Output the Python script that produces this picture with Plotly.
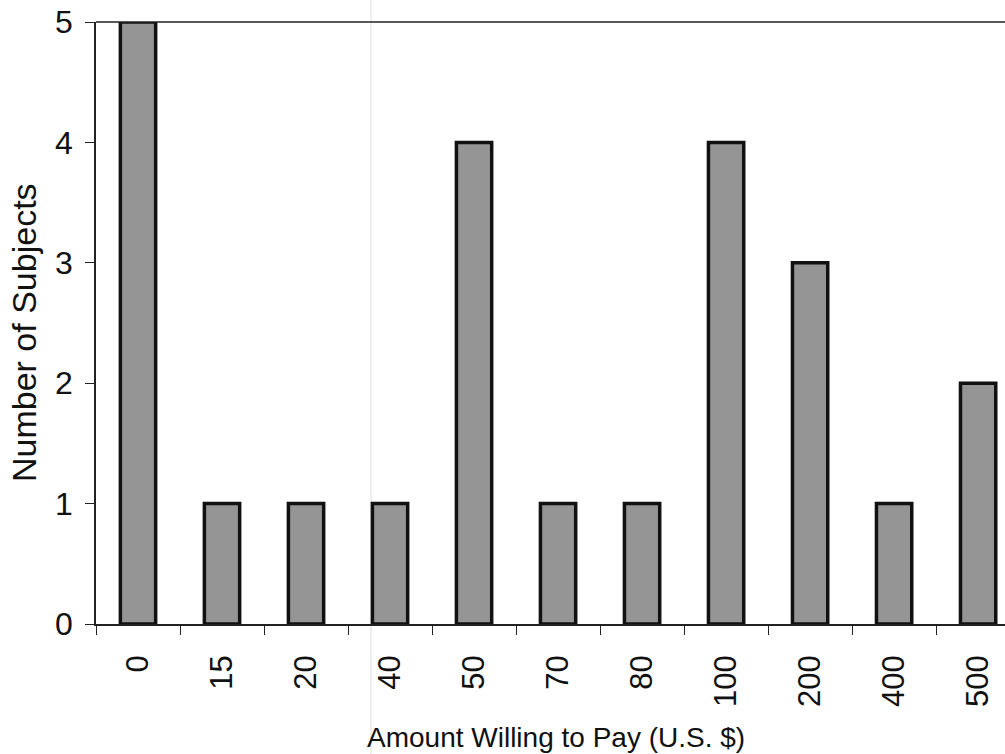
import plotly.graph_objects as go

# Amount willing to pay (categories) and number of subjects
amounts = ["0", "15", "20", "40", "50", "70", "80", "100", "200", "400", "500"]
subjects = [5, 1, 1, 1, 4, 1, 1, 4, 3, 1, 2]
y_ticks = [0, 1, 2, 3, 4, 5]

font_family = "Liberation Sans, Arial, sans-serif"

W, H = 1005, 754
L, R, T, B = 96, 0, 22, 130
plot_w = W - L - R
plot_h = H - T - B


def px_x(x):
    return (x - L) / plot_w


def px_y(y):
    return (H - B - y) / plot_h


fig = go.Figure(go.Bar(
    x=amounts,
    y=subjects,
    width=0.42,
    marker=dict(color="#959595", line=dict(color="#111111", width=3.5)),
))

fig.update_layout(
    width=W,
    height=H,
    margin=dict(l=L, r=R, t=T, b=B),
    paper_bgcolor="white",
    plot_bgcolor="white",
    showlegend=False,
    font=dict(family=font_family, size=31, color="#111111"),
    xaxis=dict(
        type="category",
        range=[-0.5, 10.32],
        showline=True,
        linecolor="#222222",
        linewidth=1.5,
        ticks="outside",
        tickson="boundaries",
        ticklen=9,
        tickcolor="#222222",
        tickangle=-90,
        tickfont=dict(size=31),
        ticklabelstandoff=17,
        showgrid=False,
        zeroline=False,
    ),
    yaxis=dict(
        range=[0, 5],
        tickvals=y_ticks,
        showline=True,
        linecolor="#222222",
        linewidth=1.5,
        ticks="outside",
        ticklen=9,
        tickcolor="#222222",
        tickfont=dict(size=32),
        ticklabelstandoff=6,
        showgrid=False,
        zeroline=False,
    ),
    annotations=[
        dict(text="Number of Subjects", xref="paper", yref="paper",
             x=px_x(24), y=px_y(333), xanchor="center", yanchor="middle",
             showarrow=False, textangle=-90, font=dict(size=34)),
        dict(text="Amount Willing to Pay (U.S. $)", xref="paper", yref="paper",
             x=px_x(556), y=px_y(755), xanchor="center", yanchor="bottom",
             showarrow=False, font=dict(size=28)),
    ],
)

# top frame line and faint vertical scan line
fig.add_shape(type="line", xref="paper", yref="paper", x0=0, x1=1, y0=1, y1=1,
              line=dict(color="#222222", width=1.5))
fig.add_shape(type="line", xref="paper", yref="paper",
              x0=px_x(371), x1=px_x(371), y0=px_y(754), y1=px_y(0),
              line=dict(color="#dcdcdc", width=1), layer="below")

fig.write_html("out.html", config={"displayModeBar": False},
               post_script="document.body.style.margin='0';")
